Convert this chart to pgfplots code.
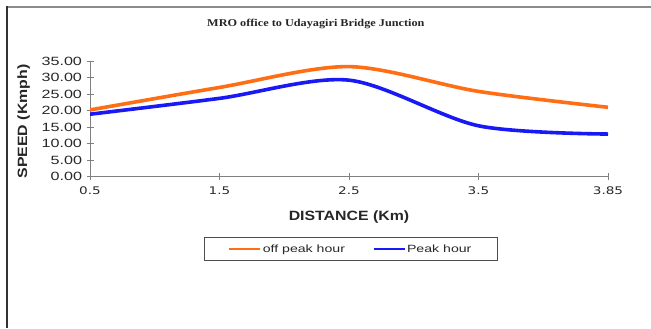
\documentclass[border=0pt]{standalone}
\usepackage{fontspec}
\usepackage{pgfplots}
\pgfplotsset{compat=1.18}

\newfontfamily\ticksf[FakeStretch=1.35]{Liberation Sans}
\newfontfamily\labsf[FakeStretch=1.18]{Liberation Sans}
\newfontfamily\xtickf[FakeStretch=1.3]{DejaVu Sans}
\newfontfamily\titlef[FakeStretch=1.17]{Liberation Serif}

\definecolor{offpeak}{RGB}{255,110,20}
\definecolor{peak}{RGB}{25,25,245}
\definecolor{axisgray}{RGB}{128,128,128}
\definecolor{textdark}{RGB}{40,40,40}

\begin{document}
\begin{tikzpicture}[x=1bp,y=1bp]
  \useasboundingbox (0,0) rectangle (651,328);
  % outer chart frame (top and left edges only)
  \draw[black!45, line width=1.3bp] (7,321) -- (651,321);
  \draw[black!80, line width=1.3bp] (7,321.6) -- (7,0);

  \begin{axis}[
    at={(90bp,151.3bp)}, anchor=south west,
    scale only axis, width=518bp, height=115.7bp,
    xmin=0, xmax=4, ymin=0, ymax=35,
    axis x line=bottom, axis y line=left,
    axis line style={-, draw=axisgray, line width=0.9bp},
    xtick={0,1,2,3,4},
    xticklabels={0.5,1.5,2.5,3.5,3.85},
    ytick={0,5,10,15,20,25,30,35},
    yticklabels={0.00,5.00,10.00,15.00,20.00,25.00,30.00,35.00},
    tick align=center, major tick length=7bp,
    tick style={draw=axisgray, line width=0.9bp},
    yticklabel style={font=\ticksf\fontsize{12}{12}\selectfont, text=textdark, xshift=-1bp},
    xticklabel style={font=\xtickf\fontsize{10.5}{10.5}\selectfont, text=textdark, yshift=-3bp},
    xlabel={DISTANCE (Km)},
    ylabel={SPEED (Kmph)},
    x label style={font=\labsf\bfseries\fontsize{13.5}{13.5}\selectfont, text=black!85,
      at={(axis description cs:0.5,-0.346)}, anchor=center},
    y label style={font=\labsf\bfseries\fontsize{13.5}{13.5}\selectfont, text=black!85,
      at={(axis description cs:-0.128,0.477)}, anchor=center},
    title={MRO office to Udayagiri Bridge Junction},
    title style={font=\titlef\bfseries\fontsize{10.5}{10.5}\selectfont, text=black!85,
      at={(axis description cs:0.436,1.268)}, anchor=center},
    legend columns=2,
    legend style={
      at={(axis description cs:0.504,-0.625)}, anchor=center,
      draw=black!70, line width=0.8bp, fill=white,
      font=\ticksf\fontsize{10.5}{10.5}\selectfont, text=textdark,
      inner xsep=24bp, inner ysep=5bp,
      /tikz/every even column/.append style={column sep=26bp},
    },
    legend image code/.code={\draw[#1,line width=1.1bp] (0bp,0bp) -- (31bp,0bp);},
  ]
    \addplot[color=offpeak, line width=3.6bp, smooth, tension=0.5]
      coordinates {(0,20.2) (1,27.0) (2,33.3) (3,25.8) (4,21.0)};
    \addlegendentry{off peak hour}
    \addplot[color=peak, line width=3.6bp, smooth, tension=0.5]
      coordinates {(0,18.9) (1,23.7) (2,29.2) (3,15.4) (4,12.9)};
    \addlegendentry{Peak hour}
  \end{axis}
\end{tikzpicture}
\end{document}
